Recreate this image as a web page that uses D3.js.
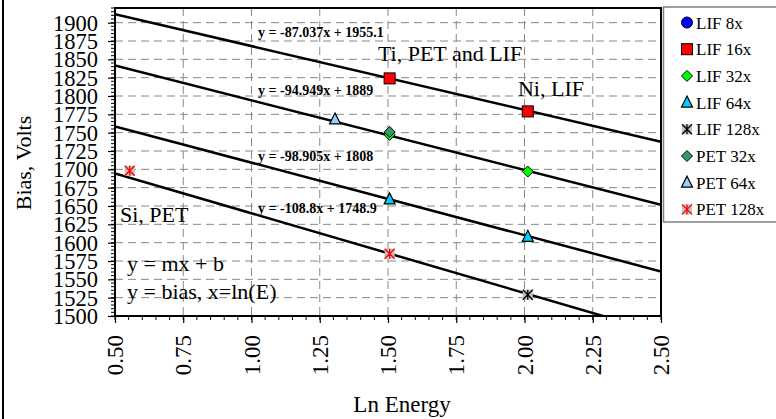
<!DOCTYPE html>
<html>
<head>
<meta charset="utf-8">
<script src="https://cdn.jsdelivr.net/npm/d3@7"></script>
<style>
  body { margin: 0; background: #fff; }
  svg { display: block; font-family: 'Liberation Serif', 'Times New Roman', serif; }
</style>
</head>
<body>
<div id="chart"></div>
<script>
// series (x = ln(E), y = bias volts)
const seriesNames = ['LIF 8x', 'LIF 16x', 'LIF 32x', 'LIF 64x', 'LIF 128x', 'PET 32x', 'PET 64x', 'PET 128x'];
const seriesX = [[], [1.506, 2.012], [1.506, 2.012], [1.506, 2.012], [2.012], [1.506], [1.306], [0.554, 1.506]];
const seriesY = [[], [1824, 1779], [1747, 1697], [1659, 1608], [1529], [1751], [1768], [1698, 1585]];

// linear fits
const fitSlopes = [-87.037, -94.949, -98.905, -108.8];
const fitIntercepts = [1955.1, 1889, 1808, 1748.9];
const fitLabels = ['y = -87.037x + 1955.1', 'y = -94.949x + 1889', 'y = -98.905x + 1808', 'y = -108.8x + 1748.9'];

const xTicks = [0.5, 0.75, 1.0, 1.25, 1.5, 1.75, 2.0, 2.25, 2.5];
const yTicks = d3.range(1500, 1901, 25);

const width = 776, height = 419;
const margin = { top: 8, right: 115, bottom: 103, left: 115 };
const plotW = 661 - margin.left;
const plotH = 316 - margin.top;

const svg = d3.select('#chart').append('svg')
    .attr('width', width)
    .attr('height', height);

const x = d3.scaleLinear().domain([0.5, 2.5]).range([0, plotW]);
const y = d3.scaleLinear().domain([1500, 1920]).range([plotH, 0]);

// outer frame, left side
svg.append('line')
    .attr('x1', 3).attr('x2', 3).attr('y1', 0).attr('y2', height)
    .attr('stroke', '#000').attr('stroke-width', 2);

const g = svg.append('g').attr('transform', `translate(${margin.left},${margin.top})`);

g.append('clipPath').attr('id', 'clip')
    .append('rect').attr('width', plotW).attr('height', plotH);

// grid
g.append('g').selectAll('line')
    .data(xTicks.slice(1, -1))
    .join('line')
    .attr('x1', (d) => x(d)).attr('x2', (d) => x(d))
    .attr('y1', 0).attr('y2', plotH)
    .attr('stroke', '#888').attr('stroke-width', 1).attr('stroke-dasharray', '8,5');
g.append('g').selectAll('line')
    .data(yTicks.slice(1))
    .join('line')
    .attr('x1', 0).attr('x2', plotW)
    .attr('y1', (d) => y(d)).attr('y2', (d) => y(d))
    .attr('stroke', '#888').attr('stroke-width', 1).attr('stroke-dasharray', '8,5');

// minor ticks
g.append('g').selectAll('line')
    .data(d3.range(1500, 1921, 5))
    .join('line')
    .attr('x1', -4).attr('x2', 0)
    .attr('y1', (d) => y(d)).attr('y2', (d) => y(d))
    .attr('stroke', '#000').attr('stroke-width', 1);
g.append('g').selectAll('line')
    .data(d3.range(0.5, 2.501, 0.05))
    .join('line')
    .attr('x1', (d) => x(d)).attr('x2', (d) => x(d))
    .attr('y1', plotH).attr('y2', plotH + 4)
    .attr('stroke', '#000').attr('stroke-width', 1);

// axes
const yAxis = g.append('g')
    .call(d3.axisLeft(y).tickValues(yTicks).tickSize(7).tickPadding(10).tickFormat(d3.format('d')));
const xAxis = g.append('g')
    .attr('transform', `translate(0,${plotH})`)
    .call(d3.axisBottom(x).tickValues(xTicks).tickSize(7).tickFormat(d3.format('.2f')));
[yAxis, xAxis].forEach((a) => {
    a.select('.domain').remove();
    a.selectAll('line').attr('stroke', '#000').attr('stroke-width', 1.2);
    a.selectAll('text')
        .attr('font-family', "'Liberation Serif', serif")
        .attr('font-size', '23px')
        .attr('fill', '#000');
});
yAxis.selectAll('text').attr('font-size', '22.5px').attr('dy', '0.34em');
xAxis.selectAll('text')
    .attr('transform', 'rotate(-90)')
    .attr('text-anchor', 'end')
    .attr('x', -19)
    .attr('y', 0)
    .attr('dy', '0.33em');

// fit lines
const lines = g.append('g').attr('clip-path', 'url(#clip)');
lines.selectAll('line')
    .data(fitSlopes)
    .join('line')
    .attr('x1', x(0.5))
    .attr('x2', x(2.5))
    .attr('y1', (m, i) => y(m * 0.5 + fitIntercepts[i]))
    .attr('y2', (m, i) => y(m * 2.5 + fitIntercepts[i]))
    .attr('stroke', '#000').attr('stroke-width', 2.5);

// markers
const styles = [
    { shape: 'circle', fill: '#0000ff', stroke: '#000' },
    { shape: 'square', fill: '#ff0000', stroke: '#000' },
    { shape: 'diamond', fill: '#00ff00', stroke: '#000' },
    { shape: 'triangle', fill: '#00ccff', stroke: '#000' },
    { shape: 'star', fill: '#c0c0c0', stroke: '#000' },
    { shape: 'diamond', fill: '#339966', stroke: '#000' },
    { shape: 'triangle', fill: '#99ccff', stroke: '#000' },
    { shape: 'star', fill: '#c0c0c0', stroke: '#ff0000' },
];

function drawMarker(sel, st, cx, cy) {
    const s = 5.5;
    if (st.shape === 'circle') {
        sel.append('circle').attr('cx', cx).attr('cy', cy).attr('r', s)
            .attr('fill', st.fill).attr('stroke', st.stroke).attr('stroke-width', 1);
    } else if (st.shape === 'square') {
        sel.append('rect').attr('x', cx - s).attr('y', cy - s).attr('width', 2 * s).attr('height', 2 * s)
            .attr('fill', st.fill).attr('stroke', st.stroke).attr('stroke-width', 1);
    } else if (st.shape === 'diamond') {
        sel.append('path')
            .attr('d', `M${cx},${cy - s}L${cx + s},${cy}L${cx},${cy + s}L${cx - s},${cy}Z`)
            .attr('fill', st.fill).attr('stroke', st.stroke).attr('stroke-width', 1);
    } else if (st.shape === 'triangle') {
        sel.append('path')
            .attr('d', `M${cx},${cy - s - 1}L${cx + s},${cy + s - 1}L${cx - s},${cy + s - 1}Z`)
            .attr('fill', st.fill).attr('stroke', st.stroke).attr('stroke-width', 1.2);
    } else {
        const r = s - 0.5;
        sel.append('rect').attr('x', cx - r).attr('y', cy - r).attr('width', 2 * r).attr('height', 2 * r)
            .attr('fill', st.fill);
        sel.append('path')
            .attr('d', `M${cx - r},${cy - r}L${cx + r},${cy + r}M${cx + r},${cy - r}L${cx - r},${cy + r}M${cx},${cy - r}L${cx},${cy + r}`)
            .attr('stroke', st.stroke).attr('stroke-width', 1.3);
    }
}

const points = g.append('g');
seriesNames.forEach((name, i) => {
    seriesX[i].forEach((xv, j) => {
        drawMarker(points, styles[i], x(xv), y(seriesY[i][j]));
    });
});

// plot frame
g.append('rect')
    .attr('width', plotW).attr('height', plotH)
    .attr('fill', 'none').attr('stroke', '#000').attr('stroke-width', 2);

// equations
const eqPos = [[1.024, 1880.5], [1.024, 1801], [1.024, 1711.5], [1.024, 1640.5]];
g.append('g').selectAll('text')
    .data(fitLabels)
    .join('text')
    .attr('x', (d, i) => x(eqPos[i][0]))
    .attr('y', (d, i) => y(eqPos[i][1]))
    .attr('font-size', '14px')
    .attr('font-weight', 'bold')
    .text((d) => d);

// annotations
const notes = [
    { text: 'Ti, PET and LIF', x: 1.463, y: 1847.7 },
    { text: 'Ni, LIF', x: 1.976, y: 1800 },
    { text: 'Si, PET', x: 0.518, y: 1628.2 },
    { text: 'y = mx + b', x: 0.544, y: 1561.4 },
    { text: 'y = bias, x=ln(E)', x: 0.544, y: 1523.2 },
];
g.append('g').selectAll('text')
    .data(notes)
    .join('text')
    .attr('x', (d) => x(d.x))
    .attr('y', (d) => y(d.y))
    .attr('font-size', '22px')
    .text((d) => d.text);

// axis titles
svg.append('text')
    .attr('transform', 'translate(31,163) rotate(-90)')
    .attr('text-anchor', 'middle')
    .attr('font-size', '22px')
    .text('Bias, Volts');
svg.append('text')
    .attr('x', 402)
    .attr('y', 412)
    .attr('text-anchor', 'middle')
    .attr('font-size', '23px')
    .text('Ln Energy');

// legend
const legend = svg.append('g');
legend.append('rect')
    .attr('x', 663.5).attr('y', 7).attr('width', 130).attr('height', 215)
    .attr('fill', '#fff').attr('stroke', '#808080').attr('stroke-width', 1.5);
seriesNames.forEach((name, i) => {
    const cy = 22.5 + i * 26.7;
    drawMarker(legend, styles[i], 687, cy);
    legend.append('text')
        .attr('x', 696).attr('y', cy + 6)
        .attr('font-size', '17px')
        .text(name);
});
</script>
</body>
</html>
